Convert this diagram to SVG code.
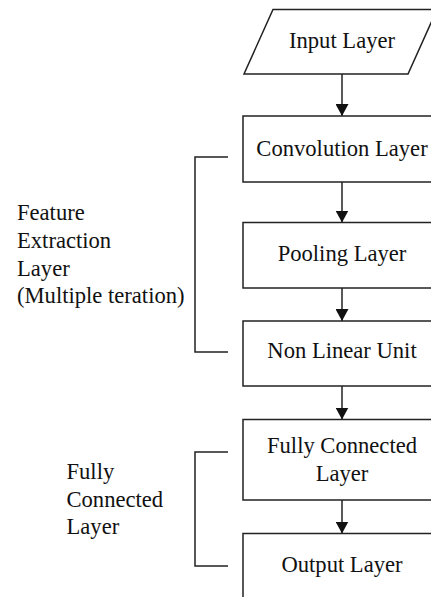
<svg xmlns="http://www.w3.org/2000/svg" width="431" height="597" viewBox="0 0 431 597">
<defs>
<style>
.box{fill:#fff;stroke:#222;stroke-width:1.5}
.t{font-family:"Liberation Serif","Times New Roman",serif;font-size:22.6px;fill:#111}
.c{text-anchor:middle}
.ln{fill:none;stroke:#222;stroke-width:1.5}
</style>
<marker id="ah" viewBox="0 0 12 13" refX="12" refY="6.5" markerWidth="12" markerHeight="13" markerUnits="userSpaceOnUse" orient="auto">
<path d="M0,0 L12,6.5 L0,13 Z" fill="#111"/>
</marker>
</defs>
<rect width="431" height="597" fill="#fff"/>
<g id="connectors">
<line class="ln" x1="342" y1="74" x2="342" y2="116" marker-end="url(#ah)"/>
<line class="ln" x1="342" y1="182" x2="342" y2="222.5" marker-end="url(#ah)"/>
<line class="ln" x1="342" y1="288" x2="342" y2="321" marker-end="url(#ah)"/>
<line class="ln" x1="342" y1="386" x2="342" y2="419.5" marker-end="url(#ah)"/>
<line class="ln" x1="342" y1="500" x2="342" y2="533.5" marker-end="url(#ah)"/>
<path class="ln" d="M228,157 H195 V352 H228"/>
<path class="ln" d="M228,452 H195 V566 H228"/>
</g>
<g id="input">
<polygon class="box" points="273,9.5 437,9.5 408,74 244,74"/>
<text class="t c" x="342" y="48">Input Layer</text>
</g>
<g id="conv">
<rect class="box" x="243" y="116" width="200" height="66"/>
<text class="t c" x="342" y="156">Convolution Layer</text>
</g>
<g id="pool">
<rect class="box" x="243" y="222.5" width="200" height="65.5"/>
<text class="t c" x="342" y="261">Pooling Layer</text>
</g>
<g id="nonlinear">
<rect class="box" x="243" y="321" width="200" height="65"/>
<text class="t c" x="342" y="358">Non Linear Unit</text>
</g>
<g id="fc">
<rect class="box" x="243" y="419.5" width="200" height="80.5"/>
<text class="t c" x="342" y="453">Fully Connected</text>
<text class="t c" x="342" y="480.5">Layer</text>
</g>
<g id="output">
<rect class="box" x="243" y="533.5" width="200" height="80"/>
<text class="t c" x="342" y="571.5">Output Layer</text>
</g>
<g id="label-feature">
<text class="t" x="17" y="220">Feature</text>
<text class="t" x="17" y="248">Extraction</text>
<text class="t" x="17" y="275.5">Layer</text>
<text class="t" x="17" y="303">(Multiple teration)</text>
</g>
<g id="label-fc">
<text class="t" x="66.5" y="479">Fully</text>
<text class="t" x="66.5" y="506.5">Connected</text>
<text class="t" x="66.5" y="534">Layer</text>
</g>
</svg>
